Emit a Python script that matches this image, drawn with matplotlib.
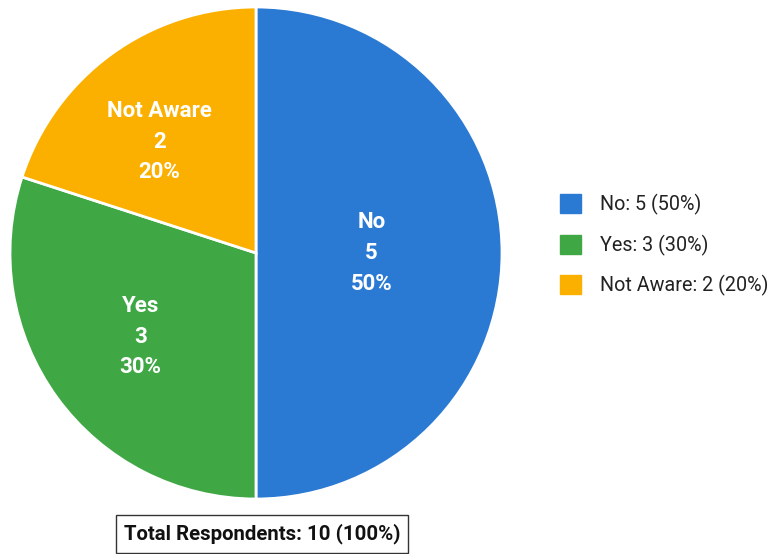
import matplotlib.pyplot as plt
import numpy as np

categories = ['No', 'Yes', 'Not Aware']
counts = [5, 3, 2]
colors = ['#2a7ad3', '#3fa845', '#fbb000']

total = sum(counts)
pcts = [c / total * 100 for c in counts]

plt.rcParams['font.family'] = ['Roboto', 'DejaVu Sans']

fig = plt.figure(figsize=(7.71, 5.54), dpi=100)
W, H = 771, 554
cx, cy, r = 256, 253, 246
ax = fig.add_axes([(cx - r) / W, (H - cy - r) / H, 2 * r / W, 2 * r / H])

wedges, _ = ax.pie(counts, colors=colors, startangle=90, counterclock=False,
                   wedgeprops=dict(edgecolor='white', linewidth=2))
ax.set_xlim(-1, 1)
ax.set_ylim(-1, 1)
ax.set_aspect('equal')

# per-slice label distance / small angle nudge
dists = [0.47, 0.58, 0.6]
nudges = [0, 0, 5]
for w, cat, n, p, d, nd in zip(wedges, categories, counts, pcts, dists, nudges):
    ang = np.deg2rad((w.theta1 + w.theta2) / 2 + nd)
    ax.text(d * np.cos(ang), d * np.sin(ang), f"{cat}\n{n}\n{p:.0f}%",
            ha='center', va='center', color='white', fontsize=16,
            fontweight='bold', linespacing=1.5)

# legend
handles = [plt.Rectangle((0, 0), 1, 1, color=c) for c in colors]
labels = [f"{cat}: {n} ({p:.0f}%)" for cat, n, p in zip(categories, counts, pcts)]
fig.legend(handles, labels, loc='center left', bbox_to_anchor=(542 / W, 1 - 245 / H),
           frameon=False, fontsize=14.2, handlelength=1.1, handleheight=1.1,
           labelspacing=1.0, handletextpad=0.96, labelcolor='#222222')

fig.text(262 / W, 1 - 534 / H, f"Total Respondents: {total} (100%)", ha='center', va='center',
         fontsize=14.7, fontweight='bold', color='#111111',
         bbox=dict(boxstyle='square,pad=0.4', facecolor='white', edgecolor='#333333', linewidth=1))

fig.savefig('out.png', dpi=100)
